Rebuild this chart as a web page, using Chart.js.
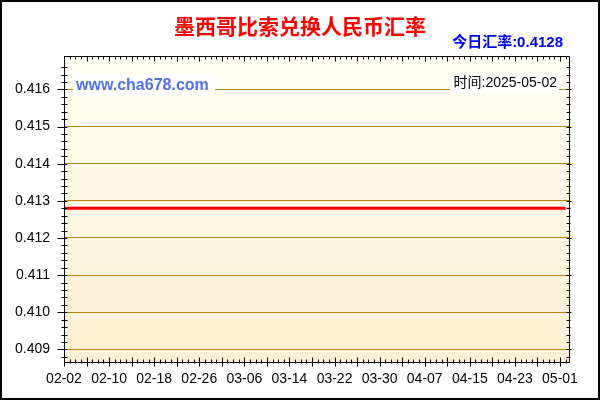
<!DOCTYPE html>
<html>
<head>
<meta charset="utf-8">
<script src="https://cdn.jsdelivr.net/npm/chart.js@4"></script>
<style>
  html, body { margin: 0; padding: 0; background: #fff; }
  #wrap { width: 600px; height: 400px; }
</style>
</head>
<body>
<div id="wrap"><canvas id="chart" width="600" height="400"></canvas></div>
<script>
// rates per day, 02-02 .. 05-02 (90 days), flat at 0.4128
const rates = [
  0.4128, 0.4128, 0.4128, 0.4128, 0.4128, 0.4128, 0.4128, 0.4128, 0.4128, 0.4128,
  0.4128, 0.4128, 0.4128, 0.4128, 0.4128, 0.4128, 0.4128, 0.4128, 0.4128, 0.4128,
  0.4128, 0.4128, 0.4128, 0.4128, 0.4128, 0.4128, 0.4128, 0.4128, 0.4128, 0.4128,
  0.4128, 0.4128, 0.4128, 0.4128, 0.4128, 0.4128, 0.4128, 0.4128, 0.4128, 0.4128,
  0.4128, 0.4128, 0.4128, 0.4128, 0.4128, 0.4128, 0.4128, 0.4128, 0.4128, 0.4128,
  0.4128, 0.4128, 0.4128, 0.4128, 0.4128, 0.4128, 0.4128, 0.4128, 0.4128, 0.4128,
  0.4128, 0.4128, 0.4128, 0.4128, 0.4128, 0.4128, 0.4128, 0.4128, 0.4128, 0.4128,
  0.4128, 0.4128, 0.4128, 0.4128, 0.4128, 0.4128, 0.4128, 0.4128, 0.4128, 0.4128,
  0.4128, 0.4128, 0.4128, 0.4128, 0.4128, 0.4128, 0.4128, 0.4128, 0.4128, 0.4128
];
const xTickDays = [0, 8, 16, 24, 32, 40, 48, 56, 64, 72, 80, 88];
const xTickLabels = ['02-02', '02-10', '02-18', '02-26', '03-06', '03-14', '03-22', '03-30', '04-07', '04-15', '04-23', '05-01'];
const yTicks = [0.409, 0.410, 0.411, 0.412, 0.413, 0.414, 0.415, 0.416];

const titleText = '墨西哥比索兑换人民币汇率';
const todayText = '今日汇率:0.4128';
const siteText = 'www.cha678.com';
const timeText = '时间:2025-05-02';

const frame = {
  id: 'frame',
  beforeDraw(chart) {
    const { ctx, chartArea: a } = chart;
    ctx.save();
    ctx.fillStyle = '#fff';
    ctx.fillRect(0, 0, chart.width, chart.height);
    const g = ctx.createLinearGradient(0, a.top, 0, a.bottom);
    g.addColorStop(0, '#fffff3');
    g.addColorStop(1, '#fdf0d4');
    ctx.fillStyle = g;
    ctx.fillRect(a.left, a.top, a.right - a.left, a.bottom - a.top);
    ctx.restore();
  },
  afterDraw(chart) {
    const { ctx, chartArea: a } = chart;
    const xs = chart.scales.x, ys = chart.scales.y;
    const L = Math.round(a.left) + 0.5, R = Math.round(a.right) + 0.5;
    const T = Math.round(a.top) + 0.5, B = Math.round(a.bottom) + 0.5;
    ctx.save();
    ctx.strokeStyle = '#000';
    ctx.lineWidth = 1;
    ctx.beginPath();
    // axis box
    ctx.rect(L, T, R - L, B - T);
    // x ticks, one per day
    for (let d = 0; d <= 89; d++) {
      const x = Math.round(xs.getPixelForValue(d)) + 0.5;
      const big = d % 4 === 0;
      ctx.moveTo(x, B - (big ? 5 : 3)); ctx.lineTo(x, B + (big ? 4 : 1));
      ctx.moveTo(x, T); ctx.lineTo(x, T + (big ? 5 : 3));
    }
    // y ticks
    for (let i = 0; i <= 40; i++) {
      const v = 0.4086 + i * 0.0002;
      if (v < ys.min || v > ys.max) continue;
      const y = Math.round(ys.getPixelForValue(v)) + 0.5;
      const big = Math.abs(v * 1000 - Math.round(v * 1000)) < 1e-6;
      ctx.moveTo(L - (big ? 7 : 3), y); ctx.lineTo(L + 3, y);
      ctx.moveTo(R - 3, y); ctx.lineTo(R + (big ? 2 : 1), y);
    }
    ctx.stroke();

    // outer border
    ctx.lineWidth = 2;
    ctx.strokeRect(1, 1, chart.width - 2, chart.height - 2);

    // title
    ctx.textAlign = 'center';
    ctx.textBaseline = 'middle';
    ctx.fillStyle = '#ff0000';
    ctx.font = 'bold 21px "Noto Sans CJK SC"';
    ctx.fillText(titleText, 300, 26);

    ctx.textAlign = 'right';
    ctx.fillStyle = '#0000ff';
    ctx.font = 'bold 15px "Liberation Sans", "Noto Sans CJK SC"';
    ctx.fillText(todayText, 563, 43);

    // watermark boxes
    ctx.textBaseline = 'alphabetic';
    ctx.fillStyle = '#fff';
    ctx.fillRect(73, 74, 142, 22);
    ctx.fillRect(450, 73, 109, 20);
    ctx.textAlign = 'left';
    ctx.fillStyle = '#4f70ee';
    ctx.font = 'bold 16px "Liberation Sans"';
    ctx.fillText(siteText, 76, 90);
    ctx.textAlign = 'right';
    ctx.fillStyle = '#000';
    ctx.font = '14px "Liberation Sans", "Noto Sans CJK SC"';
    ctx.fillText(timeText, 557, 87);
    ctx.restore();
  }
};

new Chart(document.getElementById('chart'), {
  type: 'line',
  data: {
    datasets: [{
      data: rates.map((v, i) => ({ x: i, y: v })),
      borderColor: '#ff0000',
      borderWidth: 3,
      pointRadius: 0,
      tension: 0
    }]
  },
  options: {
    responsive: false,
    animation: false,
    devicePixelRatio: 1,
    layout: { padding: { top: 56, right: 31, left: 0, bottom: 0 } },
    plugins: { legend: { display: false }, title: { display: false }, tooltip: { enabled: false } },
    scales: {
      x: {
        type: 'linear',
        min: 0,
        max: 89.6,
        afterFit: (s) => { s.height = 38; },
        afterBuildTicks: (s) => { s.ticks = xTickDays.map(v => ({ value: v })); },
        border: { display: false },
        grid: { display: false, drawTicks: false },
        ticks: {
          autoSkip: false,
          maxRotation: 0,
          padding: 9,
          color: '#000',
          font: { family: '"Liberation Sans"', size: 14 },
          callback: (v) => xTickLabels[xTickDays.indexOf(v)]
        }
      },
      y: {
        min: 0.40866,
        max: 0.41690,
        afterFit: (s) => { s.width = 64; },
        afterBuildTicks: (s) => { s.ticks = yTicks.map(v => ({ value: v })); },
        border: { display: false },
        grid: { color: '#b8860b', lineWidth: 1, drawTicks: false },
        ticks: {
          padding: 14,
          color: '#000',
          font: { family: '"Liberation Sans"', size: 14 },
          callback: (v) => v.toFixed(3)
        }
      }
    }
  },
  plugins: [frame]
});
</script>
</body>
</html>
